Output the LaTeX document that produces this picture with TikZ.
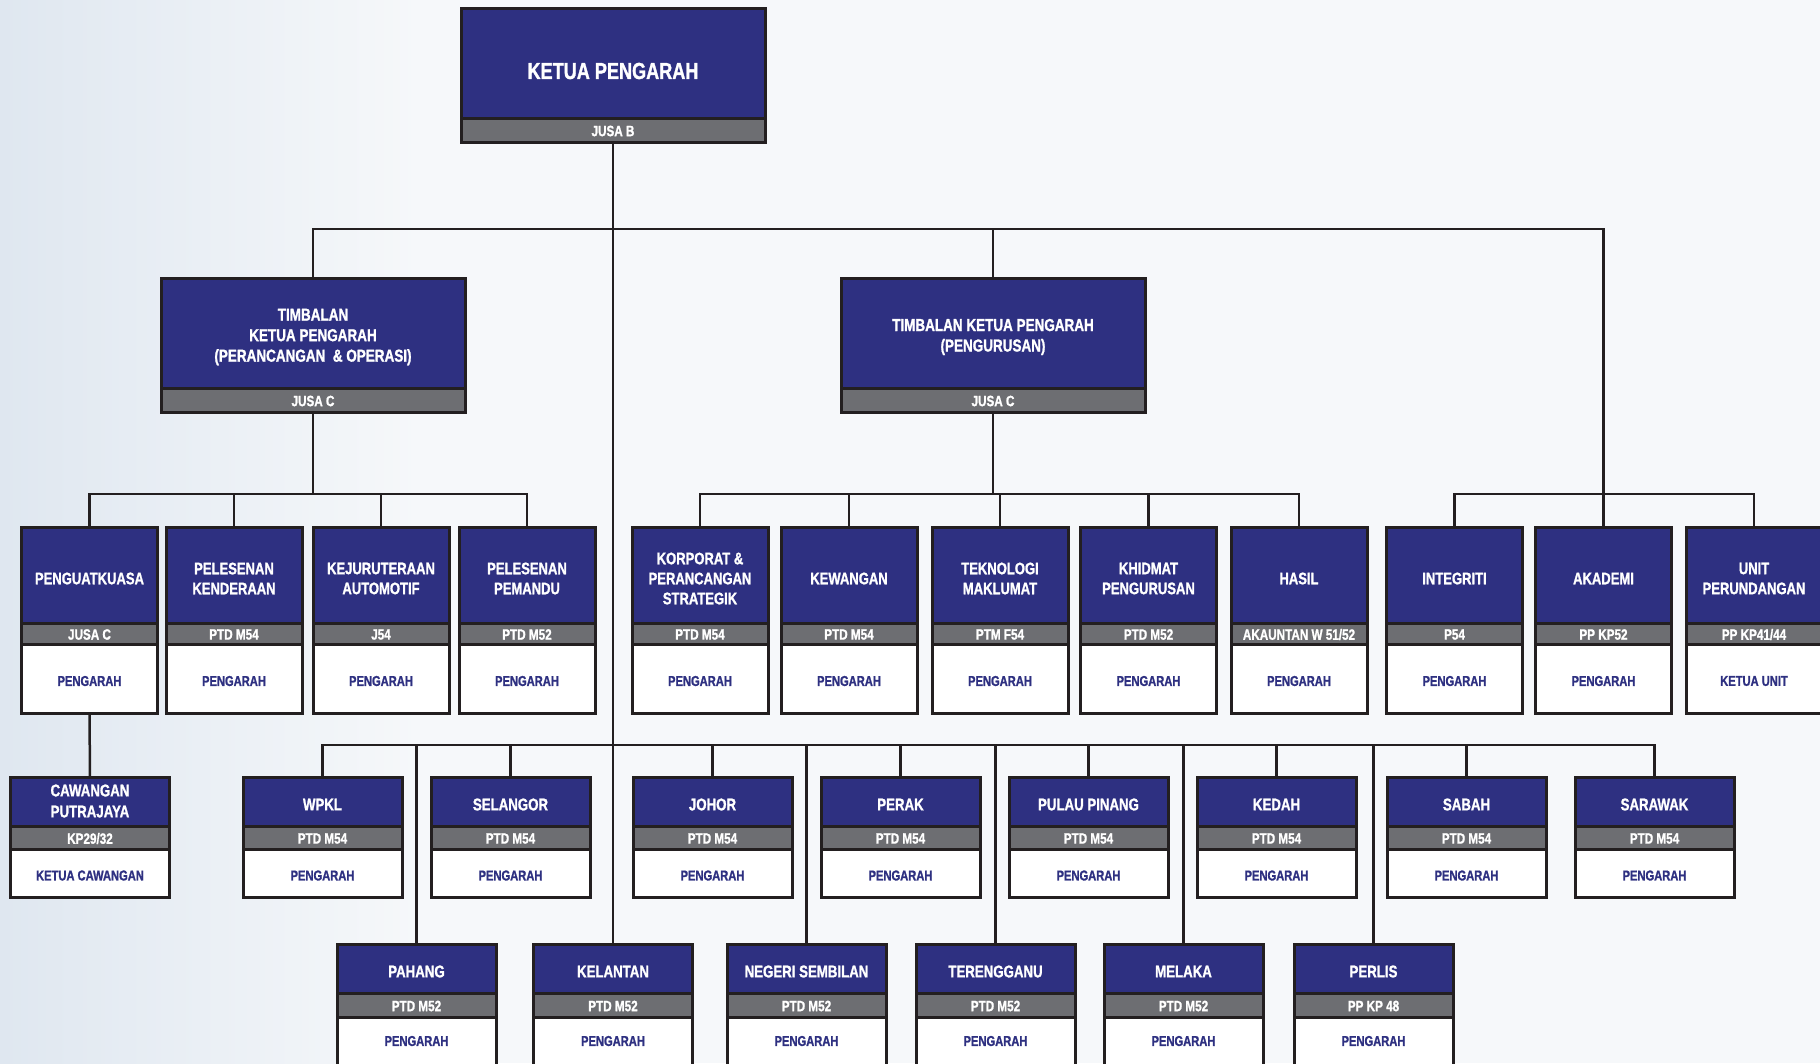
\documentclass[tikz,border=0pt]{standalone}
\usepackage{fontspec}
\setmainfont{Liberation Sans}[FakeStretch=0.78, BoldFeatures={FakeBold=1.2}]
\definecolor{navy}{HTML}{2E3081}
\definecolor{gry}{HTML}{6D6E72}
\definecolor{bord}{HTML}{231F20}
\definecolor{bg}{HTML}{F6F8FA}
\definecolor{bgl}{HTML}{DFE7F0}
\tikzset{
  box/.style={draw=bord, line width=3pt, inner sep=0pt, outer sep=0pt, anchor=north},
  txt/.style={inner sep=0pt, outer sep=0pt, align=center, anchor=center},
  bl/.style={box, fill=navy},
  gr/.style={box, fill=gry},
  wh/.style={box, fill=white},
  blt/.style={txt, text=white, font=\bfseries\fontsize{16.7}{20}\selectfont},
  grt/.style={txt, text=white, font=\bfseries\fontsize{15}{16}\selectfont},
  wht/.style={txt, text=navy, font=\bfseries\fontsize{14.3}{16}\selectfont},
  l1b/.style={bl, minimum width=304pt, minimum height=110pt},
  l1g/.style={gr, minimum width=304pt, minimum height=24pt},
  l1bt/.style={blt, font=\bfseries\fontsize{23.2}{26}\selectfont},
  l2b/.style={bl, minimum width=304pt, minimum height=110pt},
  l2g/.style={gr, minimum width=304pt, minimum height=24pt},
  l2bt/.style={blt, font=\bfseries\fontsize{17.3}{20.5}\selectfont},
  l3b/.style={bl, minimum width=136pt, minimum height=96pt},
  l3g/.style={gr, minimum width=136pt, minimum height=21pt},
  l3w/.style={wh, minimum width=136pt, minimum height=69pt},
  l3bt/.style={blt},
  l4b/.style={bl, minimum width=159pt, minimum height=49pt},
  l4g/.style={gr, minimum width=159pt, minimum height=23pt},
  l4w/.style={wh, minimum width=159pt, minimum height=48pt},
  l4bt/.style={blt, font=\bfseries\fontsize{17}{21}\selectfont},
  l5b/.style={bl, minimum width=159pt, minimum height=49pt},
  l5g/.style={gr, minimum width=159pt, minimum height=24pt},
  l5w/.style={wh, minimum width=159pt, minimum height=60pt},
  l5bt/.style={blt, font=\bfseries\fontsize{17}{21}\selectfont},
  conn/.style={draw=bord, line width=2.5pt},
}
% #1 name, #2 level, #3 x, #4 y, #5 title, #6 grade, #7 title shift
\newcommand\obtwo[7]{%
  \node[#2b] (#1) at (#3,#4) {};
  \node[#2g] (#1-g) at (#1.south) {};
  \node[#2bt] (#1-t) at ([yshift=#7]#1.center) {#5};
  \node[grt] (#1-gt) at ([yshift=-1pt]#1-g.center) {#6};
}
% #1 name, #2 level, #3 x, #4 y, #5 title, #6 grade, #7 role, #8 title shift, #9 role shift
\newcommand\obthree[9]{%
  \node[#2b] (#1) at (#3,#4) {};
  \node[#2g] (#1-g) at (#1.south) {};
  \node[#2w] (#1-w) at (#1-g.south) {};
  \node[#2bt] (#1-t) at ([yshift=#8]#1.center) {#5};
  \node[grt] (#1-gt) at ([yshift=-1pt]#1-g.center) {#6};
  \node[wht] (#1-wt) at ([yshift=#9]#1-w.center) {#7};
}
\begin{document}
\begin{tikzpicture}[x=1pt,y=-1pt]
\useasboundingbox (0,0) rectangle (1820,1063);
\fill[bg] (0,0) rectangle (1820,1063);
\shade[left color=bgl, right color=bg] (0,0) rectangle (420,1063);

\coordinate (r1) at (0,229);
\coordinate (r3) at (0,494);
\coordinate (r4) at (0,745);

% level 1 and 2
\obtwo{top}{l1}{613}{8}{KETUA PENGARAH}{JUSA B}{-8pt}
\obtwo{tl}{l2}{313}{278}{TIMBALAN\\KETUA PENGARAH\\(PERANCANGAN \ \& OPERASI)}{JUSA C}{-4pt}
\obtwo{tr}{l2}{993}{278}{TIMBALAN KETUA PENGARAH\\(PENGURUSAN)}{JUSA C}{-4pt}

% level 3
\obthree{peng}{l3}{89.5}{527}{PENGUATKUASA}{JUSA C}{PENGARAH}{-3.5pt}{-2.5pt}
\obthree{kend}{l3}{234}{527}{PELESENAN\\KENDERAAN}{PTD M54}{PENGARAH}{-3.5pt}{-2.5pt}
\obthree{kej}{l3}{381}{527}{KEJURUTERAAN\\AUTOMOTIF}{J54}{PENGARAH}{-3.5pt}{-2.5pt}
\obthree{pem}{l3}{527}{527}{PELESENAN\\PEMANDU}{PTD M52}{PENGARAH}{-3.5pt}{-2.5pt}
\obthree{korp}{l3}{700}{527}{KORPORAT \&\\PERANCANGAN\\STRATEGIK}{PTD M54}{PENGARAH}{-3.5pt}{-2.5pt}
\obthree{kew}{l3}{849}{527}{KEWANGAN}{PTD M54}{PENGARAH}{-3.5pt}{-2.5pt}
\obthree{tek}{l3}{1000}{527}{TEKNOLOGI\\MAKLUMAT}{PTM F54}{PENGARAH}{-3.5pt}{-2.5pt}
\obthree{khid}{l3}{1148.5}{527}{KHIDMAT\\PENGURUSAN}{PTD M52}{PENGARAH}{-3.5pt}{-2.5pt}
\obthree{hasil}{l3}{1299}{527}{HASIL}{AKAUNTAN W 51/52}{PENGARAH}{-3.5pt}{-2.5pt}
\obthree{integ}{l3}{1454.5}{527}{INTEGRITI}{P54}{PENGARAH}{-3.5pt}{-2.5pt}
\obthree{aka}{l3}{1603.5}{527}{AKADEMI}{PP KP52}{PENGARAH}{-3.5pt}{-2.5pt}
\obthree{unit}{l3}{1754}{527}{UNIT\\PERUNDANGAN}{PP KP41/44}{KETUA UNIT}{-3.5pt}{-2.5pt}

% level 4
\obthree{caw}{l4}{90}{777}{CAWANGAN\\PUTRAJAYA}{KP29/32}{KETUA CAWANGAN}{0.5pt}{-2.5pt}
\obthree{wpkl}{l4}{322.5}{777}{WPKL}{PTD M54}{PENGARAH}{-3pt}{-2.5pt}
\obthree{sel}{l4}{510.5}{777}{SELANGOR}{PTD M54}{PENGARAH}{-3pt}{-2.5pt}
\obthree{joh}{l4}{712.5}{777}{JOHOR}{PTD M54}{PENGARAH}{-3pt}{-2.5pt}
\obthree{perak}{l4}{900.5}{777}{PERAK}{PTD M54}{PENGARAH}{-3pt}{-2.5pt}
\obthree{pp}{l4}{1088.5}{777}{PULAU PINANG}{PTD M54}{PENGARAH}{-3pt}{-2.5pt}
\obthree{ked}{l4}{1276.5}{777}{KEDAH}{PTD M54}{PENGARAH}{-3pt}{-2.5pt}
\obthree{sab}{l4}{1466.5}{777}{SABAH}{PTD M54}{PENGARAH}{-3pt}{-2.5pt}
\obthree{swk}{l4}{1654.5}{777}{SARAWAK}{PTD M54}{PENGARAH}{-3pt}{-2.5pt}

% level 5 (white part runs off the page bottom)
\obthree{pah}{l5}{416.5}{944}{PAHANG}{PTD M52}{PENGARAH}{-3pt}{6pt}
\obthree{kel}{l5}{613}{944}{KELANTAN}{PTD M52}{PENGARAH}{-3pt}{6pt}
\obthree{ns}{l5}{806.5}{944}{NEGERI SEMBILAN}{PTD M52}{PENGARAH}{-3pt}{6pt}
\obthree{ter}{l5}{995.5}{944}{TERENGGANU}{PTD M52}{PENGARAH}{-3pt}{6pt}
\obthree{mel}{l5}{1183.5}{944}{MELAKA}{PTD M52}{PENGARAH}{-3pt}{6pt}
\obthree{per}{l5}{1373.5}{944}{PERLIS}{PP KP 48}{PENGARAH}{-3pt}{6pt}

% connectors
\draw[conn] (top-g.south) -- (kel.north);
\draw[conn] (tl.north) |- (top-g.south |- r1) -| (aka.north);
\draw[conn] (tr.north) -- (tr.north |- r1);
\draw[conn] (tl-g.south) -- (tl-g.south |- r3);
\draw[conn] (peng.north) |- (pem.north |- r3) -- (pem.north);
\draw[conn] (kend.north) -- (kend.north |- r3);
\draw[conn] (kej.north) -- (kej.north |- r3);
\draw[conn] (tr-g.south) -- (tr-g.south |- r3);
\draw[conn] (korp.north) |- (hasil.north |- r3) -- (hasil.north);
\draw[conn] (kew.north) -- (kew.north |- r3);
\draw[conn] (tek.north) -- (tek.north |- r3);
\draw[conn] (khid.north) -- (khid.north |- r3);
\draw[conn] (integ.north) |- (unit.north |- r3) -- (unit.north);
\draw[conn] (peng-w.south) -- (caw.north);
\draw[conn] (wpkl.north) |- (swk.north |- r4) -- (swk.north);
\foreach \n in {sel,joh,perak,pp,ked,sab,pah,ns,ter,mel,per}
  \draw[conn] (\n.north) -- (\n.north |- r4);
\end{tikzpicture}
\end{document}
